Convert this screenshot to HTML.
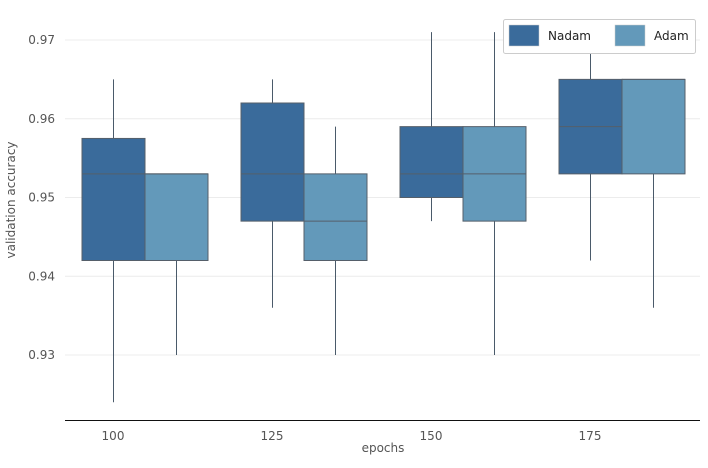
<!DOCTYPE html>
<html><head><meta charset="utf-8"><style>
body{margin:0;background:#fff;font-family:"Liberation Sans","DejaVu Sans",sans-serif}
svg text{font-family:"DejaVu Sans","Liberation Sans",sans-serif;fill:#555}
</style></head><body>
<svg id="c" width="708" height="463"></svg>
<script>
const categories=["100","125","150","175"];
const seriesNames=["Nadam","Adam"];
const seriesColors=["#3a6b9b","#6399ba"];
const nadamLow=[0.924,0.936,0.947,0.942];
const nadamQ1=[0.942,0.947,0.950,0.953];
const nadamMed=[0.953,0.953,0.953,0.959];
const nadamQ3=[0.9575,0.962,0.959,0.965];
const nadamHigh=[0.965,0.965,0.971,0.971];
const adamLow=[0.930,0.930,0.930,0.936];
const adamQ1=[0.942,0.942,0.947,0.953];
const adamMed=[0.953,0.947,0.953,0.965];
const adamQ3=[0.953,0.953,0.959,0.965];
const adamHigh=[0.953,0.959,0.971,0.965];
const yTicks=[0.93,0.94,0.95,0.96,0.97];
const NS="http://www.w3.org/2000/svg";
const svg=document.getElementById('c');
function y(v){return 40+(0.97-v)*7875;}
function gx(i){return 82+159*i;}
function mk(t,a,p){const e=document.createElementNS(NS,t);for(const k in a)e.setAttribute(k,a[k]);(p||svg).appendChild(e);return e;}
yTicks.forEach(t=>{
 const g=mk('line',{x1:65,x2:700,y1:y(t),y2:y(t),stroke:'#ececec','stroke-width':1});
 
 
 const l=mk('text',{x:55,y:y(t)+4,'text-anchor':'end','font-size':12});
 l.textContent=t.toFixed(2);
 
 
});
const series=[[nadamLow,nadamQ1,nadamMed,nadamQ3,nadamHigh],[adamLow,adamQ1,adamMed,adamQ3,adamHigh]];
categories.forEach((c,i)=>{
 series.forEach((s,j)=>{
  const x0=gx(i)+63*j, w=63, cx=x0+w/2;
  const wl=mk('line',{x1:cx,x2:cx,y1:y(s[4][i]),y2:y(s[0][i]),stroke:'#4a5a6a','stroke-width':1});
  
  
  const b=mk('rect',{x:x0,y:y(s[3][i]),width:w,height:Math.max(0,y(s[1][i])-y(s[3][i])),fill:seriesColors[j],stroke:'#555f6a','stroke-width':1});
  
  
  const m=mk('line',{x1:x0,x2:x0+w,y1:y(s[2][i]),y2:y(s[2][i]),stroke:'#555f6a','stroke-width':1});
  
  
 });
 const t=mk('text',{x:gx(i)+31,y:440,'text-anchor':'middle','font-size':12});
 t.textContent=c;
 
 
});
const ax=mk('line',{x1:65,x2:700,y1:420.5,y2:420.5,stroke:'#111','stroke-width':1});


const xt=mk('text',{x:383,y:452,'text-anchor':'middle','font-size':12});
xt.textContent='epochs';


const yt=mk('text',{x:0,y:0,'text-anchor':'middle','font-size':12,transform:'translate(15,200) rotate(-90)'});
yt.textContent='validation accuracy';


const lg=mk('g',{});


mk('rect',{x:503.5,y:19.5,width:192,height:34,fill:'#fff',stroke:'#ccc',rx:2},lg);
seriesNames.forEach((n,j)=>{
 const sw=mk('rect',{x:509+106*j,y:25,width:30,height:21,fill:seriesColors[j],stroke:'#ccc','stroke-width':0.5},lg);
 
 
 const tx=mk('text',{x:548+106*j,y:40,'font-size':12,style:'fill:#222'},lg);
 tx.textContent=n;
 
 
});
</script>
</body></html>
